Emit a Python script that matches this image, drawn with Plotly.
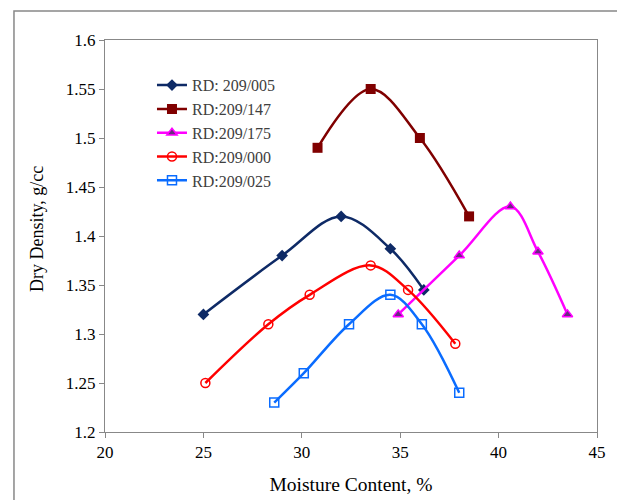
import plotly.graph_objects as go

names = ["RD: 209/005", "RD:209/147", "RD:209/175", "RD:209/000", "RD:209/025"]

x_005 = [25.0, 29.0, 32.0, 34.5, 36.2]
y_005 = [1.32, 1.38, 1.42, 1.387, 1.345]

x_147 = [30.8, 33.5, 36.0, 38.5]
y_147 = [1.49, 1.55, 1.50, 1.42]

x_175 = [34.9, 38.0, 40.6, 42.0, 43.5]
y_175 = [1.32, 1.38, 1.43, 1.384, 1.32]

x_000 = [25.1, 28.3, 30.4, 33.5, 35.4, 37.8]
y_000 = [1.25, 1.31, 1.34, 1.37, 1.345, 1.29]

x_025 = [28.6, 30.1, 32.4, 34.5, 36.1, 38.0]
y_025 = [1.23, 1.26, 1.31, 1.34, 1.31, 1.24]

x_ticks = [20, 25, 30, 35, 40, 45]
y_ticks = [1.2, 1.25, 1.3, 1.35, 1.4, 1.45, 1.5, 1.55, 1.6]
y_tick_text = ["1.2", "1.25", "1.3", "1.35", "1.4", "1.45", "1.5", "1.55", "1.6"]

styles = [
    dict(color="#0E2A66", marker=dict(symbol="diamond", size=9, color="#0E2A66")),
    dict(color="#800000", marker=dict(symbol="square", size=10, color="#800000")),
    dict(color="#FF00FF", marker=dict(symbol="triangle-up", size=9, color="#6A2A80",
                                       line=dict(color="#FF00FF", width=1.5))),
    dict(color="#FF0000", marker=dict(symbol="circle-open", size=9, color="#FF0000",
                                       line=dict(width=1.5))),
    dict(color="#0A6CFF", marker=dict(symbol="square-open", size=9, color="#0A6CFF",
                                       line=dict(width=1.5))),
]

series = [(x_005, y_005), (x_147, y_147), (x_175, y_175), (x_000, y_000), (x_025, y_025)]

fig = go.Figure()
for (xs, ys), nm, st in zip(series, names, styles):
    fig.add_trace(go.Scatter(
        x=xs, y=ys, name=nm, mode="lines+markers",
        line=dict(color=st["color"], width=2.5, shape="spline", smoothing=1.0),
        marker=st["marker"],
    ))

serif = "Liberation Serif"

fig.update_layout(
    width=625, height=500,
    margin=dict(l=97, r=36, t=32, b=76),
    paper_bgcolor="white", plot_bgcolor="white",
    font=dict(family=serif, size=16, color="#000000"),
    showlegend=True,
    legend=dict(x=0.0955, y=0.928, xanchor="left", yanchor="top",
                bgcolor="rgba(0,0,0,0)", font=dict(family=serif, size=16, color="#404040"),
                tracegroupgap=0),
    xaxis=dict(range=[20, 45], tickvals=x_ticks, showgrid=False, zeroline=False,
               showline=True, linecolor="#888888", linewidth=1, mirror=True,
               ticks="outside", ticklen=5, tickcolor="#888888", automargin=False,
               tickfont=dict(family=serif, size=17, color="#000000"),
               title=dict(text="Moisture Content, %", font=dict(family=serif, size=19.5), standoff=15)),
    yaxis=dict(range=[1.2, 1.6], tickvals=y_ticks, ticktext=y_tick_text,
               showgrid=False, zeroline=False, automargin=False,
               showline=True, linecolor="#888888", linewidth=1, mirror=True,
               ticks="outside", ticklen=5, tickcolor="#888888",
               tickfont=dict(family=serif, size=17, color="#000000")),
    annotations=[dict(text="Dry Density, g/cc", xref="paper", yref="paper",
                      x=-0.138, y=0.518, xanchor="center", yanchor="middle",
                      textangle=-90, showarrow=False,
                      font=dict(family=serif, size=18, color="#000000"))],
    shapes=[dict(type="rect", xref="paper", yref="paper",
                 x0=-0.185, x1=1.3, y0=-0.4, y1=1.074,
                 line=dict(color="#888888", width=1.5), layer="below")],
)

fig.write_html("out.html")
